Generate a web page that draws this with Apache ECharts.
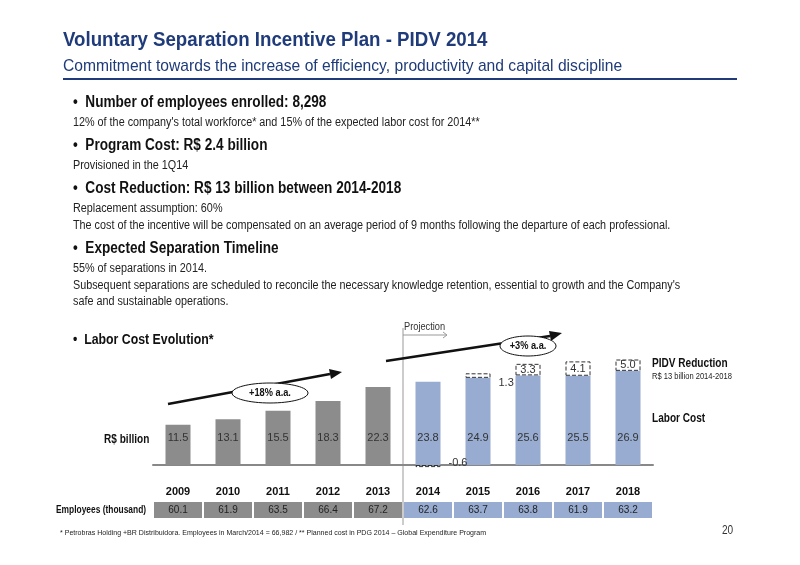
<!DOCTYPE html>
<html><head><meta charset="utf-8">
<script src="https://cdn.jsdelivr.net/npm/echarts@6/dist/echarts.min.js"></script>
<style>html,body{margin:0;padding:0;background:#fff}#c{width:800px;height:565px}</style>
</head><body><div id="c"></div>
<script>
const years = ['2009','2010','2011','2012','2013','2014','2015','2016','2017','2018'];
const laborCost = [11.5,13.1,15.5,18.3,22.3,23.8,24.9,25.6,25.5,26.9];
const pidvReduction = [null,null,null,null,null,-0.6,1.3,3.3,4.1,5.0];
const employees = [60.1,61.9,63.5,66.4,67.2,62.6,63.7,63.8,61.9,63.2];

const F = "'Liberation Sans',Arial,sans-serif";
const GRAY = '#8c8c8c', BLUE = '#97acd0', NAVY = '#1f3b7a';
const SX = 0.84;
const chart = echarts.init(document.getElementById('c'));

function txt(x,y,t,o,sx){
  return {type:'text',x:x,y:y,scaleX:sx||SX,
    style:Object.assign({text:t,font:'12px '+F,fill:'#222',textVerticalAlign:'top'},o||{})};
}
const H = {font:'bold 16px '+F,fill:'#111'};
const B = {font:'12px '+F,fill:'#222'};

const barColor = i => i < 5 ? GRAY : BLUE;

chart.setOption({
  animation:false,
  grid:[{left:153,width:500,top:360,height:112},{left:153,width:500,top:502,height:16}],
  xAxis:[
    {type:'category',data:years,gridIndex:0,axisTick:{show:false},
     axisLine:{lineStyle:{color:'#888',width:2}},
     axisLabel:{margin:14,fontFamily:F,fontWeight:'bold',fontSize:11,color:'#111'}},
    {type:'category',data:years,gridIndex:1,show:false}
  ],
  yAxis:[
    {type:'value',min:-2,max:30,gridIndex:0,show:false},
    {type:'value',min:0,max:1,gridIndex:1,show:false}
  ],
  series:[
    {type:'bar',stack:'a',data:laborCost.map((v,i)=>({value:v,itemStyle:{color:barColor(i)}})),
     barWidth:25,
     label:{show:true,position:'insideBottom',distance:22,fontFamily:F,fontSize:11,color:'#333'}},
    {type:'bar',stack:'a',data:pidvReduction,barWidth:25,
     itemStyle:{color:'rgba(0,0,0,0)',borderColor:'#333',borderType:'dashed',borderWidth:1},
     label:{show:true,position:'inside',fontFamily:F,fontSize:11,color:'#333',
       formatter:p=>p.value==null?'':p.value.toFixed(1)},
     labelLayout:function(p){
       if(p.dataIndex===6) return {x:p.rect.x+p.rect.width+8,y:p.rect.y+4};
       if(p.dataIndex===5) return {x:p.rect.x+p.rect.width+8,y:p.rect.y-8};
       return {};
     }},
    {type:'custom',xAxisIndex:1,yAxisIndex:1,data:employees.map((v,i)=>[i,v]),
     renderItem:function(params,api){
       const i=api.value(0);const c=api.coord([i,0.5]);const w=api.size([1,0])[0];
       return {type:'group',children:[
         {type:'rect',shape:{x:c[0]-w/2+1,y:c[1]-8,width:w-2,height:16},style:{fill:barColor(i)}},
         {type:'text',style:{text:api.value(1).toFixed(1),x:c[0],y:c[1],align:'center',verticalAlign:'middle',font:'10px '+F,fill:'#222'}}
       ]};
     }}
  ],
  graphic:[
    txt(63,30,'Voluntary Separation Incentive Plan - PIDV 2014',{font:'bold 21px '+F,fill:NAVY},0.89),
    txt(63,58,'Commitment towards the increase of efficiency, productivity and capital discipline',{font:'17px '+F,fill:NAVY},0.92),
    {type:'rect',shape:{x:63,y:78,width:674,height:2},style:{fill:NAVY}},
    txt(73,95,'•  Number of employees enrolled: 8,298',H,0.85),
    txt(73,117,"12% of the company's total workforce* and 15% of the expected labor cost for 2014**",B,0.9),
    txt(73,138,'•  Program Cost: R$ 2.4 billion',H,0.85),
    txt(73,160,'Provisioned in the 1Q14',B,0.9),
    txt(73,181,'•  Cost Reduction: R$ 13 billion between 2014-2018',H,0.85),
    txt(73,203,'Replacement assumption: 60%',B,0.9),
    txt(73,220,'The cost of the incentive will be compensated on an average period of 9 months following the departure of each professional.',B,0.9),
    txt(73,241,'•  Expected Separation Timeline',H,0.85),
    txt(73,263,'55% of separations in 2014.',B,0.9),
    txt(73,280,"Subsequent separations are scheduled to reconcile the necessary knowledge retention, essential to growth and the Company's",B,0.9),
    txt(73,296,'safe and sustainable operations.',B,0.9),
    txt(73,333,'•  Labor Cost Evolution*',{font:'bold 14px '+F,fill:'#111'},0.88),
    txt(104,434,'R$ billion',{font:'bold 12px '+F,fill:'#111'}),
    txt(652,358,'PIDV Reduction',{font:'bold 12px '+F,fill:'#111'}),
    txt(652,372,'R$ 13 billion 2014-2018',{font:'9px '+F,fill:'#222'}),
    txt(652,413,'Labor Cost',{font:'bold 12px '+F,fill:'#111'}),
    txt(56,505,'Employees (thousand)',{font:'bold 10px '+F,fill:'#111'}),
    txt(60,529,'* Petrobras Holding +BR Distribuidora. Employees in March/2014 = 66,982 / ** Planned cost in PDG 2014 – Global Expenditure Program',{font:'8px '+F,fill:'#222'},0.88),
    txt(722,525,'20',{font:'12px '+F,fill:'#333'}),
    {type:'line',shape:{x1:403,y1:328,x2:403,y2:525},style:{stroke:'#999',lineWidth:1}},
    {type:'line',shape:{x1:403,y1:335,x2:447,y2:335},style:{stroke:'#999',lineWidth:1}},
    {type:'polyline',shape:{points:[[443,332],[447,335],[443,338]]},style:{stroke:'#999',fill:null}},
    txt(404,321,'Projection',{font:'11px '+F,fill:'#333'}),
    {type:'line',shape:{x1:168,y1:404,x2:330,y2:374},style:{stroke:'#111',lineWidth:2.5}},
    {type:'polygon',shape:{points:[[342,372],[329,369],[331,379]]},style:{fill:'#111'}},
    {type:'ellipse',shape:{cx:270,cy:393,rx:38,ry:10},style:{fill:'#fff',stroke:'#111',lineWidth:1}},
    {type:'text',x:270,y:393,scaleX:SX,style:{text:'+18% a.a.',font:'bold 11px '+F,fill:'#111',align:'center',verticalAlign:'middle'}},
    {type:'line',shape:{x1:386,y1:361,x2:550,y2:336},style:{stroke:'#111',lineWidth:2.5}},
    {type:'polygon',shape:{points:[[562,333],[549,331],[551,341]]},style:{fill:'#111'}},
    {type:'ellipse',shape:{cx:528,cy:346,rx:28,ry:10},style:{fill:'#fff',stroke:'#111',lineWidth:1}},
    {type:'text',x:528,y:346,scaleX:SX,style:{text:'+3% a.a.',font:'bold 11px '+F,fill:'#111',align:'center',verticalAlign:'middle'}}
  ]
});
</script></body></html>
